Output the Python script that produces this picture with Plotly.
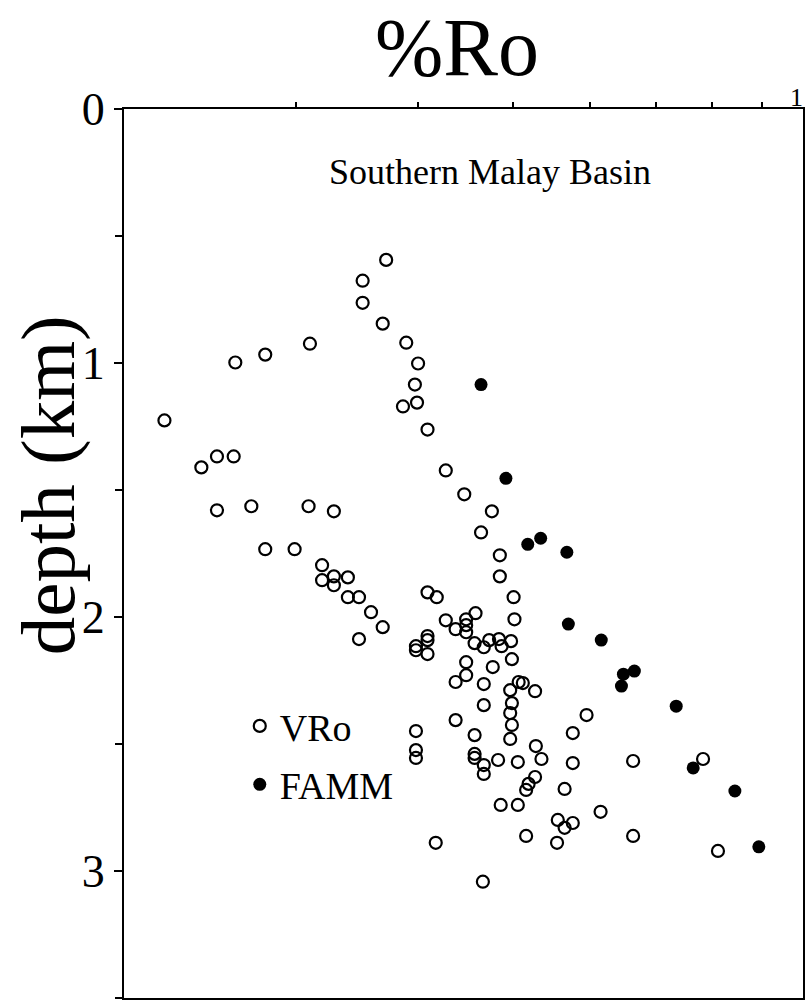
import plotly.graph_objects as go
import math

# VRo (open circles): %Ro and depth (km)
vro_ro = [0.371, 0.351, 0.351, 0.368, 0.310, 0.279, 0.260, 0.389, 0.400, 0.397,
          0.399, 0.386, 0.409, 0.220, 0.249, 0.259, 0.240, 0.427, 0.249, 0.270,
          0.309, 0.328, 0.279, 0.299, 0.319, 0.319, 0.328, 0.328, 0.339, 0.339,
          0.348, 0.358, 0.368, 0.348, 0.409, 0.418, 0.427, 0.398, 0.398, 0.409,
          0.409, 0.409, 0.398, 0.398, 0.398, 0.446, 0.476, 0.464, 0.485, 0.485,
          0.501, 0.458, 0.502, 0.448, 0.437, 0.448, 0.448, 0.457, 0.467, 0.473,
          0.484, 0.487, 0.498, 0.499, 0.448, 0.477, 0.448, 0.437, 0.467, 0.507,
          0.512, 0.497, 0.527, 0.467, 0.499, 0.497, 0.499, 0.497, 0.437, 0.457,
          0.595, 0.576, 0.528, 0.535, 0.457, 0.457, 0.467, 0.467, 0.483, 0.506,
          0.576, 0.664, 0.783, 0.527, 0.519, 0.516, 0.565, 0.615, 0.486, 0.506,
          0.556, 0.576, 0.565, 0.417, 0.516, 0.555, 0.664, 0.811, 0.466]
vro_depth = [0.594, 0.676, 0.763, 0.845, 0.924, 0.967, 0.998, 0.920, 1.002, 1.085,
             1.156, 1.171, 1.262, 1.226, 1.368, 1.368, 1.411, 1.423, 1.580, 1.564,
             1.564, 1.584, 1.733, 1.733, 1.796, 1.855, 1.840, 1.875, 1.844, 1.922,
             1.922, 1.981, 2.040, 2.087, 1.903, 1.922, 2.013, 2.115, 2.131, 2.075,
             2.091, 2.146, 2.449, 2.524, 2.555, 1.517, 1.584, 1.667, 1.757, 1.840,
             1.922, 1.985, 2.009, 2.009, 2.048, 2.032, 2.060, 2.103, 2.119, 2.091,
             2.087, 2.115, 2.095, 2.166, 2.178, 2.197, 2.229, 2.256, 2.264, 2.256,
             2.260, 2.288, 2.292, 2.347, 2.339, 2.378, 2.425, 2.480, 2.406, 2.465,
             2.386, 2.457, 2.508, 2.559, 2.539, 2.555, 2.583, 2.618, 2.563, 2.571,
             2.575, 2.567, 2.559, 2.630, 2.657, 2.681, 2.677, 2.767, 2.740, 2.740,
             2.799, 2.811, 2.830, 2.889, 2.862, 2.889, 2.862, 2.921, 3.042]

# FAMM (filled circles)
famm_ro = [0.464, 0.492, 0.518, 0.534, 0.568, 0.570, 0.616, 0.649, 0.666, 0.646,
           0.735, 0.765, 0.844, 0.893]
famm_depth = [1.085, 1.454, 1.714, 1.690, 1.745, 2.028, 2.091, 2.225, 2.213, 2.272,
              2.351, 2.594, 2.685, 2.905]

x_minor_ticks = [0.3, 0.4, 0.5, 0.6, 0.7, 0.8, 0.9]
y_ticks = [0, 1, 2, 3]
y_ticklabels = ["0", "1", "2", "3"]

SERIF = "Liberation Serif, Times New Roman, serif"

fig = go.Figure()
fig.add_trace(go.Scatter(
    x=vro_ro, y=vro_depth, mode="markers", name="VRo", legendgroup="a",
    marker=dict(symbol="circle-open", size=12, color="black", line=dict(width=2.2, color="black")),
))
fig.add_trace(go.Scatter(
    x=famm_ro, y=famm_depth, mode="markers", name="FAMM", legendgroup="b",
    marker=dict(symbol="circle", size=13, color="black"),
))

W = 680.0
H = 891.0

fig.update_layout(
    width=807, height=1002,
    margin=dict(l=124, r=3, t=109, b=2),
    paper_bgcolor="white", plot_bgcolor="white",
    font=dict(family=SERIF, color="black"),
    showlegend=True,
    legend=dict(x=0.1705, y=1 - (696 - 109) / H, xanchor="left", yanchor="top",
                font=dict(size=38, family=SERIF, color="black"),
                bgcolor="rgba(0,0,0,0)", itemwidth=30, tracegroupgap=6),
    xaxis=dict(
        type="log", side="top",
        range=[math.log10(0.2), math.log10(0.991)],
        tickmode="array", tickvals=x_minor_ticks, ticktext=[""] * len(x_minor_ticks),
        ticks="outside", ticklen=5, tickwidth=1.5, tickcolor="black",
        showline=True, linecolor="black", linewidth=2, mirror=True,
        showgrid=False, zeroline=False,
    ),
    yaxis=dict(
        range=[3.5, 0],
        tickmode="array", tickvals=y_ticks, ticktext=y_ticklabels,
        ticks="outside", ticklen=8, tickwidth=1.5, tickcolor="black",
        tickfont=dict(size=46, family=SERIF, color="black"),
        minor=dict(dtick=0.5, tick0=0, ticks="outside", ticklen=7, tickwidth=1.5, tickcolor="black"),
        showline=True, linecolor="black", linewidth=2, mirror=True,
        showgrid=False, zeroline=False,
    ),
    annotations=[
        dict(text="%Ro", xref="paper", yref="paper", x=(457 - 124) / W, y=1 + (109 - 47) / H,
             showarrow=False, xanchor="center", yanchor="middle",
             font=dict(size=82, family=SERIF, color="black")),
        dict(text="1", xref="paper", yref="paper", x=(806 - 124) / W, y=1 + (109 - 97) / H,
             showarrow=False, xanchor="right", yanchor="middle",
             font=dict(size=26, family=SERIF, color="black")),
        dict(text="depth (km)", xref="paper", yref="paper", x=(48 - 124) / W, y=1 - (486 - 109) / H,
             showarrow=False, xanchor="center", yanchor="middle", textangle=-90,
             font=dict(size=77, family=SERIF, color="black")),
        dict(text="Southern Malay Basin", xref="paper", yref="paper", x=(491 - 124) / W, y=1 - (172 - 109) / H,
             showarrow=False, xanchor="center", yanchor="middle",
             font=dict(size=36, family=SERIF, color="black")),
    ],
)

fig.write_html("out.html")
